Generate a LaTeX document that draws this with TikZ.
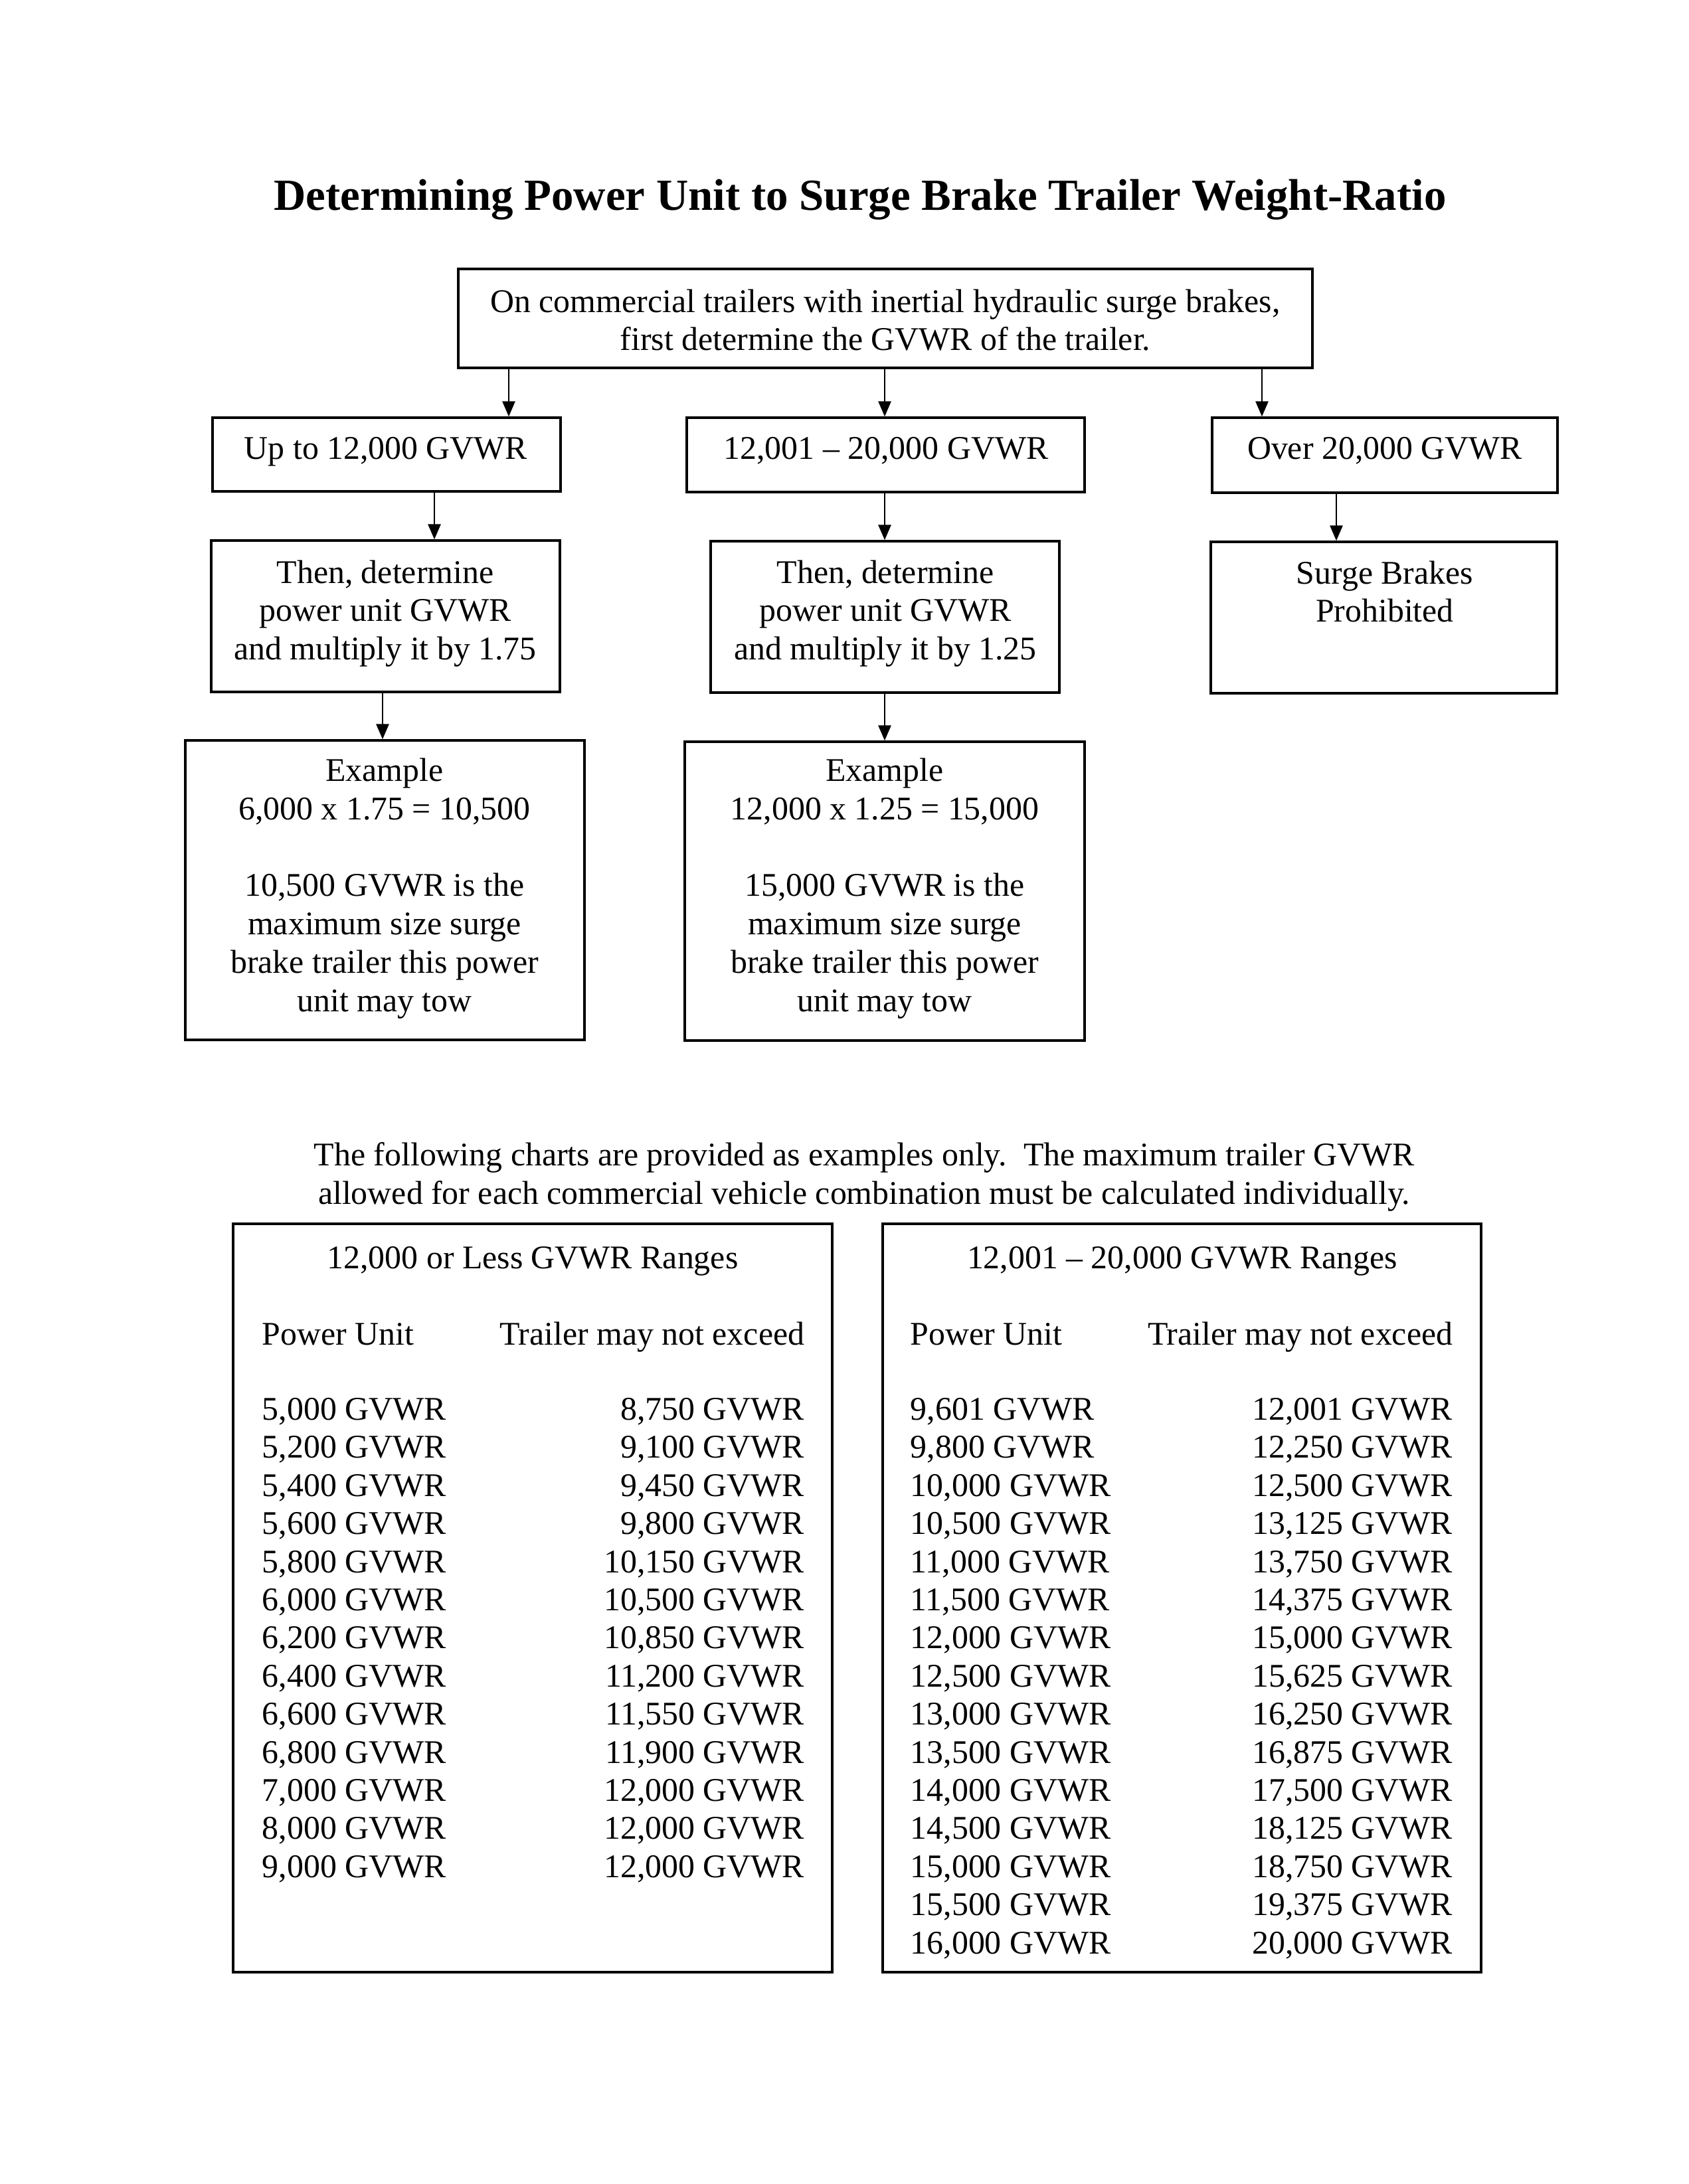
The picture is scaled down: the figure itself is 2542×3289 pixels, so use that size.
\documentclass[tikz,border=0pt]{standalone}
\usepackage{fontspec}
\setmainfont{Liberation Serif}
\usetikzlibrary{arrows.meta,fit}
\begin{document}
\begin{tikzpicture}[x=0.24076pt,y=-0.24076pt,
  box/.style={draw,line width=0.85pt,inner sep=0pt},
  txt/.style={inner sep=0pt,align=center,font=\fontsize{12}{13.9}\selectfont},
  cell/.style={inner sep=0pt,font=\fontsize{12}{13.9}\selectfont},
  arr/.style={-{Triangle[length=5.5pt,width=4.6pt]},line width=0.55pt},
  ttl/.style={inner sep=0pt,font=\bfseries\fontsize{16.1}{19}\selectfont}]
\useasboundingbox[fill=white] (0,0) rectangle (2542,3289);

% title
\node[ttl,anchor=mid] (title) at (1295,307) {Determining Power Unit to Surge Brake Trailer Weight-Ratio};

% boxes
\node[box,fit={(690,405) (1976,554)}] (top) {};
\node[box,fit={(320,629) (844,740)}] (b1) {};
\node[box,fit={(1034,629) (1633,741)}] (b2) {};
\node[box,fit={(1825,629) (2345,742)}] (b3) {};
\node[box,fit={(318,814) (843,1042)}] (c1) {};
\node[box,fit={(1070,815) (1595,1043)}] (c2) {};
\node[box,fit={(1823,816) (2344,1044)}] (c3) {};
\node[box,fit={(279,1115) (880,1566)}] (d1) {};
\node[box,fit={(1031,1117) (1633,1567)}] (d2) {};

% texts in boxes
\node[txt] (ttop) at (1333,482) {On commercial trailers with inertial hydraulic surge brakes,\\first determine the GVWR of the trailer.};
\node[txt,anchor=mid] (tb1) at (581,682) {Up to 12,000 GVWR};
\node[txt,anchor=mid] (tb2) at (1334,682) {12,001 \textendash\ 20,000 GVWR};
\node[txt,anchor=mid] (tb3) at (2085,682) {Over 20,000 GVWR};
\node[txt] (tc1) at (580,924) {Then, determine\\power unit GVWR\\and multiply it by 1.75};
\node[txt] (tc2) at (1333,924) {Then, determine\\power unit GVWR\\and multiply it by 1.25};
\node[txt] (tc3) at (2085,891) {Surge Brakes\\Prohibited};
\node[txt] (td1) at (579,1338) {Example\\6,000 x 1.75 = 10,500\\[13.9pt]10,500 GVWR is the\\maximum size surge\\brake trailer this power\\unit may tow};
\node[txt] (td2) at (1332,1338) {Example\\12,000 x 1.25 = 15,000\\[13.9pt]15,000 GVWR is the\\maximum size surge\\brake trailer this power\\unit may tow};

% arrows
\coordinate (xa) at (766,0);
\coordinate (xb) at (1332,0);
\coordinate (xc) at (1900,0);
\coordinate (xd) at (654,0);
\coordinate (xe) at (2012,0);
\coordinate (xf) at (576,0);
\draw[arr] (top.south -| xa) -- (b1.north -| xa);
\draw[arr] (top.south -| xb) -- (b2.north -| xb);
\draw[arr] (top.south -| xc) -- (b3.north -| xc);
\draw[arr] (b1.south -| xd) -- (c1.north -| xd);
\draw[arr] (b2.south -| xb) -- (c2.north -| xb);
\draw[arr] (b3.south -| xe) -- (c3.north -| xe);
\draw[arr] (c1.south -| xf) -- (d1.north -| xf);
\draw[arr] (c2.south -| xb) -- (d2.north -| xb);

% paragraph
\node[txt] (para) at (1301,1772) {The following charts are provided as examples only.\ \ The maximum trailer GVWR\\allowed for each commercial vehicle combination must be calculated individually.};

% tables
\node[box,fit={(351,1843) (1253,2970)}] (tab1) {};
\node[box,fit={(1329,1843) (2230,2970)}] (tab2) {};
\node[cell,anchor=mid] (h1) at (802,1901) {12,000 or Less GVWR Ranges};
\node[cell,anchor=mid] (h2) at (1780,1901) {12,001 \textendash\ 20,000 GVWR Ranges};
\node[cell,anchor=mid west] (p1) at (394,2016) {Power Unit};
\node[cell,anchor=mid east] (q1) at (1212,2016) {Trailer may not exceed};
\node[cell,anchor=mid west] (p2) at (1370,2016) {Power Unit};
\node[cell,anchor=mid east] (q2) at (2188,2016) {Trailer may not exceed};

\foreach \a/\b [count=\i] in {{5,000}/{8,750},{5,200}/{9,100},{5,400}/{9,450},{5,600}/{9,800},{5,800}/{10,150},{6,000}/{10,500},{6,200}/{10,850},{6,400}/{11,200},{6,600}/{11,550},{6,800}/{11,900},{7,000}/{12,000},{8,000}/{12,000},{9,000}/{12,000}}{
  \pgfmathsetmacro\yy{2129+(\i-1)*57.4}
  \node[cell,anchor=mid west] (la\i) at (394,\yy) {\a\ GVWR};
  \node[cell,anchor=mid east] (ra\i) at (1212,\yy) {\b\ GVWR};
}
\foreach \a/\b [count=\i] in {{9,601}/{12,001},{9,800}/{12,250},{10,000}/{12,500},{10,500}/{13,125},{11,000}/{13,750},{11,500}/{14,375},{12,000}/{15,000},{12,500}/{15,625},{13,000}/{16,250},{13,500}/{16,875},{14,000}/{17,500},{14,500}/{18,125},{15,000}/{18,750},{15,500}/{19,375},{16,000}/{20,000}}{
  \pgfmathsetmacro\yy{2129+(\i-1)*57.4}
  \node[cell,anchor=mid west] (lb\i) at (1370,\yy) {\a\ GVWR};
  \node[cell,anchor=mid east] (rb\i) at (2188,\yy) {\b\ GVWR};
}
\end{tikzpicture}
\end{document}
